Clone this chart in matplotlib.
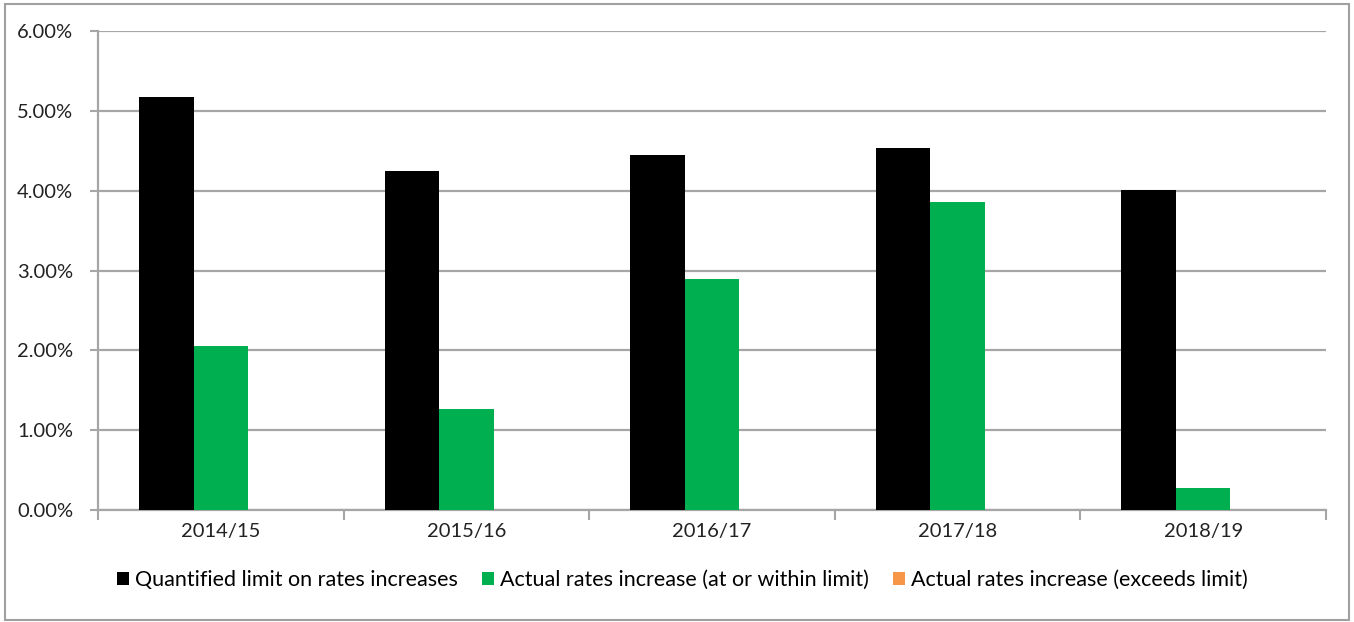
import numpy as np
import matplotlib.pyplot as plt
from matplotlib.patches import Rectangle

years = ["2014/15", "2015/16", "2016/17", "2017/18", "2018/19"]
limit = [5.17, 4.25, 4.45, 4.54, 4.01]
within = [2.06, 1.27, 2.89, 3.86, 0.28]
exceeds = [0.0, 0.0, 0.0, 0.0, 0.0]

labels = [
    "Quantified limit on rates increases",
    "Actual rates increase (at or within limit)",
    "Actual rates increase (exceeds limit)",
]
colors = ["#000000", "#00b050", "#f79646"]

plt.rcParams["font.family"] = ["Lato", "DejaVu Sans"]

fig = plt.figure(figsize=(13.54, 6.22), dpi=100)
fig.patches.append(Rectangle((0.004, 0.004), 0.992, 0.99, transform=fig.transFigure,
                             fill=False, edgecolor="#a0a0a0", linewidth=1.5))
ax = fig.add_axes([0.0724, 0.180, 0.9069, 0.770])

x = np.arange(len(years))
w = 0.222
for k, (vals, lab, col) in enumerate(zip([limit, within, exceeds], labels, colors)):
    ax.bar(x + (k - 1) * w, vals, width=w, color=col, label=lab, zorder=3)

ax.set_xlim(-0.5, len(years) - 0.5)
ax.set_ylim(0, 6)
ax.set_yticks(np.arange(0, 7, 1))
ax.set_yticklabels([f"{v:.2f}%" for v in range(7)], fontsize=14.5, color="#222222")
ax.grid(axis="y", color="#a6a6a6", linewidth=1.6, zorder=0)

ax.set_xticks(np.arange(-0.5, len(years), 1))
ax.set_xticklabels([])
ax.set_xticks(x, minor=True)
ax.set_xticklabels(years, minor=True, fontsize=14.5, color="#222222")
ax.tick_params(axis="x", which="major", length=7, width=1.5, color="#a6a6a6")
ax.tick_params(axis="x", which="minor", length=0, pad=9)
ax.tick_params(axis="y", length=6, width=1.5, color="#a6a6a6", pad=12)

for s in ["top", "right"]:
    ax.spines[s].set_visible(False)
for s in ["left", "bottom"]:
    ax.spines[s].set_color("#a6a6a6")
    ax.spines[s].set_linewidth(1.6)

ax.legend(loc="upper center", bbox_to_anchor=(0.476, -0.085), ncol=3, frameon=False,
          fontsize=15.5, handlelength=0.55, handleheight=0.55, handletextpad=0.3,
          columnspacing=1.1)

fig.savefig("out.png", dpi=100)
